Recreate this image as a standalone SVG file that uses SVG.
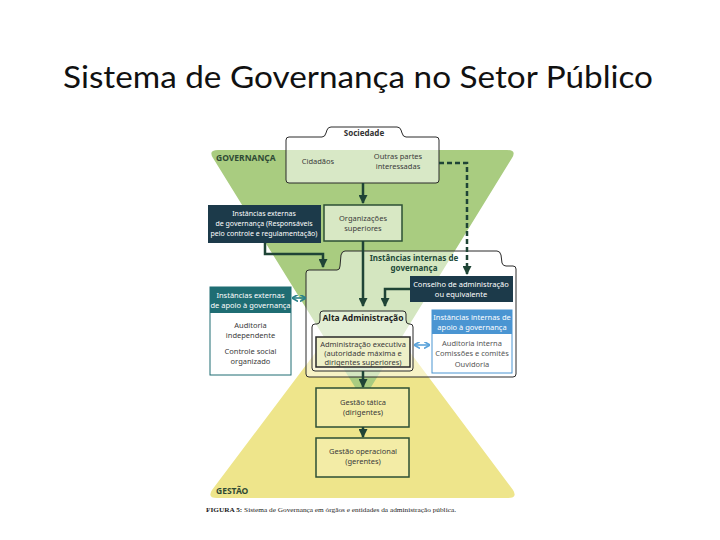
<svg xmlns="http://www.w3.org/2000/svg" width="720" height="540" viewBox="0 0 720 540">
<defs>
<style>
.t{font-family:"Noto Sans","Liberation Sans",sans-serif;font-size:7.5px;fill:#3a3a3a;text-anchor:middle}
.w{fill:#ffffff}
.b{font-weight:bold}
.lbl{font-family:"Noto Sans","Liberation Sans",sans-serif;font-size:8.5px;font-weight:bold;fill:#2f4a35}
.conn{fill:none;stroke:#1f4436;stroke-width:2.5}
.box{stroke:#2a2a2a;stroke-width:1}
.gbox{stroke:#2d4f35;stroke-width:1.5}
</style>
<marker id="ah" markerUnits="userSpaceOnUse" markerWidth="9" markerHeight="9" refX="8" refY="4.5" orient="auto" viewBox="0 0 9 9"><path d="M0,0 L9,4.5 L0,9 z" fill="#1f4436"/></marker>
<marker id="aht" markerUnits="userSpaceOnUse" markerWidth="6" markerHeight="7" refX="5" refY="3.5" orient="auto-start-reverse" viewBox="0 0 6 7"><path d="M0,0 L6,3.5 L0,7" fill="none" stroke="#2a8088" stroke-width="1.6"/></marker>
<marker id="ahb" markerUnits="userSpaceOnUse" markerWidth="6" markerHeight="7" refX="5" refY="3.5" orient="auto-start-reverse" viewBox="0 0 6 7"><path d="M0,0 L6,3.5 L0,7" fill="none" stroke="#5aa2da" stroke-width="1.6"/></marker>
</defs>
<rect width="720" height="540" fill="#ffffff"/>
<text x="358" y="88" font-family="Lato,'Open Sans',sans-serif" font-size="31" fill="#111" text-anchor="middle" textLength="590" lengthAdjust="spacingAndGlyphs">Sistema de Governança no Setor Público</text>

<g id="background">
<path d="M358 296 Q363 287 368 296 L513 490 Q518 498 508 498 L217 498 Q207 498 212 490 Z" fill="#eee58b"/>
<path d="M218 150 L507 150 Q517 150 512 158 L368 392 Q363 400 358 392 L213 158 Q208 150 218 150 Z" fill="#a9cc80"/>
<text class="lbl" x="216" y="161">GOVERNANÇA</text>
<text class="lbl" x="216" y="494">GESTÃO</text>
</g>

<g id="internas">
<path class="box" d="M306 273 Q306 270 309 270 L337 270 Q340 270 340 266 L341 255 Q342 251 345 251 L497 251 Q500 251 501 255 L502 263 Q503 266 506 266 L513 266 Q516 266 516 269 L516 374 Q516 377 513 377 L309 377 Q306 377 306 374 Z" fill="#ffffff" fill-opacity="0.5"/>
<text class="t b" x="414" y="261" style="fill:#234a3a;font-size:8px">Instâncias internas de</text>
<text class="t b" x="414" y="271" style="fill:#234a3a;font-size:8px">governança</text>
</g>

<g id="sociedade">
<path class="box" d="M286 140 Q286 137 289 137 L322 137 Q325 137 326 133 L327 130 Q328 127 331 127 L397 127 Q400 127 401 130 L402 133 Q403 137 406 137 L436 137 Q439 137 439 140 L439 180 Q439 183 436 183 L289 183 Q286 183 286 180 Z" fill="#ffffff" fill-opacity="0.55"/>
<text class="t b" x="364" y="136" style="font-size:8px;fill:#333">Sociedade</text>
<text class="t" x="318" y="164">Cidadãos</text>
<text class="t" x="398" y="159">Outras partes</text>
<text class="t" x="398" y="169">interessadas</text>
</g>

<g id="externas-governanca">
<rect x="208" y="205" width="113" height="38" fill="#1c3a4a"/>
<text class="t" x="264" y="216" style="fill:#fff;font-size:7px">Instâncias externas</text>
<text class="t" x="264" y="226" style="fill:#fff;font-size:7px">de governança (Responsáveis</text>
<text class="t" x="264" y="236" style="fill:#fff;font-size:7px">pelo controle e regulamentação)</text>
</g>

<g id="organizacoes">
<rect class="gbox" x="324" y="205" width="78" height="36" fill="#d8e8c4"/>
<text class="t" x="363" y="221">Organizações</text>
<text class="t" x="363" y="231">superiores</text>
</g>

<g id="conselho">
<rect x="410" y="276" width="103" height="26" fill="#1c3a4a"/>
<text class="t" x="461" y="287" style="fill:#fff">Conselho de administração</text>
<text class="t" x="461" y="297" style="fill:#fff">ou equivalente</text>
</g>

<g id="externas-apoio">
<rect x="210" y="287" width="81" height="88" fill="#ffffff" stroke="#1f6d73" stroke-width="1"/>
<rect x="210" y="287" width="81" height="26" fill="#1f6d73"/>
<text class="t" x="250.5" y="298" style="fill:#fff">Instâncias externas</text>
<text class="t" x="250.5" y="308" style="fill:#fff">de apoio à governança</text>
<text class="t" x="250.5" y="328">Auditoria</text>
<text class="t" x="250.5" y="338">independente</text>
<text class="t" x="250.5" y="354">Controle social</text>
<text class="t" x="250.5" y="364">organizado</text>
</g>

<g id="internas-apoio">
<rect x="432" y="310" width="80" height="63" fill="#ffffff" stroke="#4a95d2" stroke-width="1"/>
<rect x="432" y="310" width="80" height="24" fill="#4a95d2"/>
<text class="t" x="472" y="320" style="fill:#fff">Instâncias internas de</text>
<text class="t" x="472" y="330" style="fill:#fff">apoio à governança</text>
<text class="t" x="472" y="346" style="fill:#555">Auditoria interna</text>
<text class="t" x="472" y="356" style="fill:#555">Comissões e comitês</text>
<text class="t" x="472" y="367" style="fill:#555">Ouvidoria</text>
</g>

<g id="alta-administracao">
<path class="box" d="M312 327 Q312 324 315 324 L317 324 Q320 324 320 320 L320 314 Q320 311 323 311 L403 311 Q406 311 406 314 L406 320 Q406 324 409 324 L410 324 Q413 324 413 327 L413 368 Q413 371 410 371 L315 371 Q312 371 312 368 Z" fill="#ffffff" fill-opacity="0.35"/>
<text class="t b" x="363" y="321" style="font-size:8.5px;fill:#222">Alta Administração</text>
<rect x="316" y="337" width="94" height="30" fill="#eef0c8" stroke="#2a2a2a" stroke-width="1.5"/>
<text class="t" x="363" y="347">Administração executiva</text>
<text class="t" x="363" y="356">(autoridade máxima e</text>
<text class="t" x="363" y="365">dirigentes superiores)</text>
</g>

<g id="gestao-tatica">
<rect class="gbox" x="316" y="388" width="93" height="39" fill="#f3eca6"/>
<text class="t" x="363" y="405">Gestão tática</text>
<text class="t" x="363" y="415">(dirigentes)</text>
</g>

<g id="gestao-operacional">
<rect class="gbox" x="316" y="438" width="93" height="39" fill="#f3eca6"/>
<text class="t" x="363" y="454">Gestão operacional</text>
<text class="t" x="363" y="464">(gerentes)</text>
</g>

<g id="connectors">
<path class="conn" d="M363 183 L363 203" marker-end="url(#ah)"/>
<path class="conn" d="M363 241 L363 306" marker-end="url(#ah)"/>
<path class="conn" d="M265 243 L265 254 L323 254 L323 267" marker-end="url(#ah)"/>
<path class="conn" d="M410 289 L385 289 L385 306" marker-end="url(#ah)"/>
<path class="conn" d="M439 163 L467 163 L467 274" stroke-dasharray="5 3" marker-end="url(#ah)"/>
<path class="conn" d="M363 371 L363 387" marker-end="url(#ah)"/>
<path class="conn" d="M363 427 L363 437" marker-end="url(#ah)"/>
<path d="M293 298 L305 298" fill="none" stroke="#2a8088" stroke-width="1.6" marker-start="url(#aht)" marker-end="url(#aht)"/>
<path d="M415 345 L429 345" fill="none" stroke="#5aa2da" stroke-width="1.6" marker-start="url(#ahb)" marker-end="url(#ahb)"/>
</g>

<text x="206" y="512" font-family="'Liberation Serif',serif" font-size="7" fill="#222" textLength="250" lengthAdjust="spacingAndGlyphs"><tspan font-weight="bold">FIGURA 5:</tspan> Sistema de Governança em órgãos e entidades da administração pública.</text>
</svg>
